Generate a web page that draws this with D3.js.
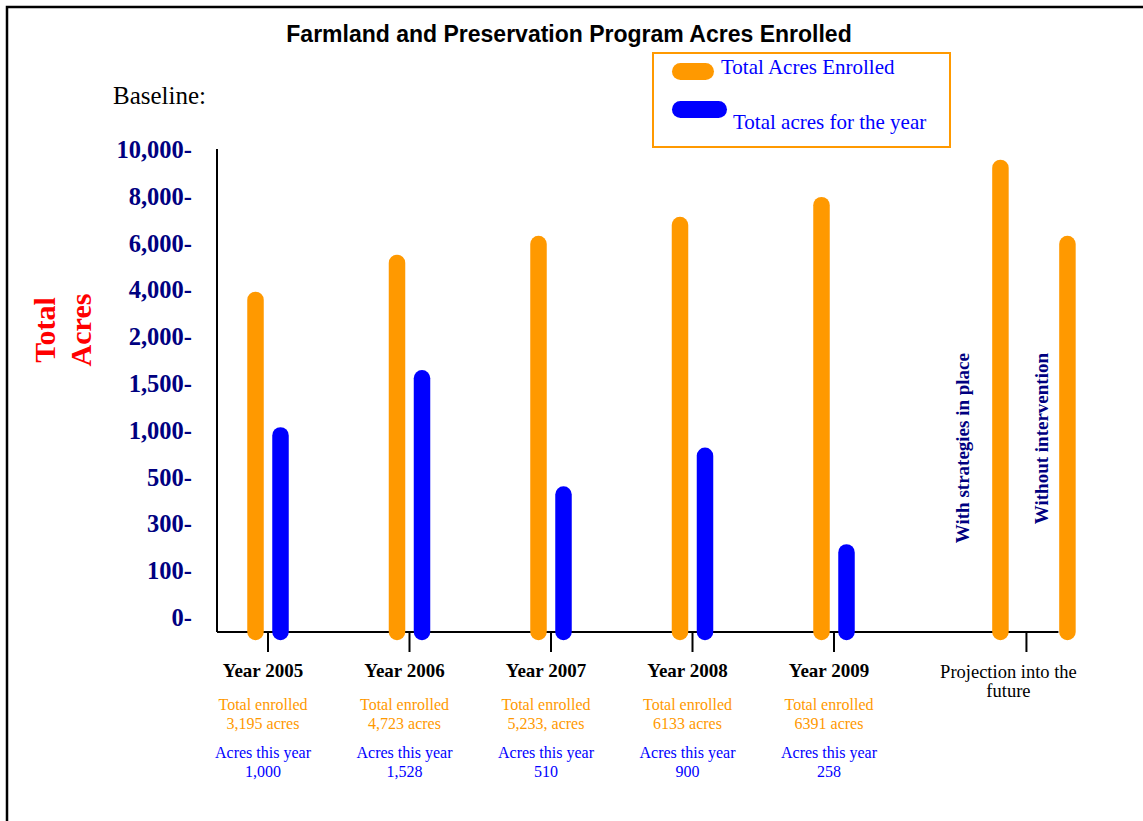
<!DOCTYPE html>
<html>
<head>
<meta charset="utf-8">
<script src="https://cdn.jsdelivr.net/npm/d3@7"></script>
<style>
  body { margin: 0; background: #fff; }
  svg { display: block; }
</style>
</head>
<body>
<div id="chart-area"></div>
<script>
// values (bar heights), plus the printed notes
var years = ["Year 2005", "Year 2006", "Year 2007", "Year 2008", "Year 2009"];
var totalEnrolled = [3550, 5130, 5940, 6750, 7600];
var acresThisYear = [940, 1550, 423, 722, 176];
var enrolledNotes = ["3,195 acres", "4,723 acres", "5,233, acres", "6133 acres", "6391 acres"];
var yearNotes = ["1,000", "1,528", "510", "900", "258"];
var projectionNames = ["With strategies in place", "Without intervention"];
var projectionValues = [9190, 5940];
var yTicks = [0, 100, 300, 500, 1000, 1500, 2000, 4000, 6000, 8000, 10000];

var W = 1143, H = 821;
var orange = "#ff9900", blue = "#0000ff", navy = "#000080";
var serif = "'Liberation Serif', 'Times New Roman', serif";

var svg = d3.select("#chart-area")
    .append("svg")
        .attr("width", W)
        .attr("height", H);

// outer frame
svg.append("rect")
    .attr("x", 7).attr("y", 7)
    .attr("width", W + 20).attr("height", H + 20)
    .attr("fill", "none")
    .attr("stroke", "#000")
    .attr("stroke-width", 2.5);

svg.append("text")
    .attr("x", 569).attr("y", 42)
    .attr("text-anchor", "middle")
    .attr("font-family", "'Liberation Sans', Arial, sans-serif")
    .attr("font-weight", "bold")
    .attr("font-size", "23px")
    .text("Farmland and Preservation Program Acres Enrolled");

svg.append("text")
    .attr("x", 113).attr("y", 104)
    .attr("font-family", serif)
    .attr("font-size", "25px")
    .text("Baseline:");

// axis geometry
var axisX = 217, baseY = 632;

// the tick labels are spaced evenly although the values are not
var step = 46.8;
var y = d3.scaleLinear()
    .domain(yTicks)
    .range(yTicks.map(function(d, i) { return 617 - i * step; }));

var x = d3.scalePoint()
    .domain(years)
    .range([268, 834]);
var projX = 834 + x.step() * 1.36;

var yAxis = svg.append("g")
    .attr("transform", "translate(" + axisX + ",0)")
    .call(d3.axisLeft(y)
        .tickValues(yTicks)
        .tickSize(0)
        .tickPadding(25)
        .tickFormat(function(d) { return d3.format(",")(d) + "-"; }));
yAxis.select(".domain").remove();
yAxis.selectAll("text")
    .attr("font-family", serif)
    .attr("font-weight", "bold")
    .attr("font-size", "24.5px")
    .attr("fill", navy)
    .attr("dy", "0.35em");

// y title, two rotated lines
[["Total", 55], ["Acres", 91]].forEach(function(t) {
    svg.append("text")
        .attr("transform", "translate(" + t[1] + ",330) rotate(-90)")
        .attr("text-anchor", "middle")
        .attr("font-family", serif)
        .attr("font-weight", "bold")
        .attr("font-size", "30px")
        .attr("fill", "#ff0000")
        .text(t[0]);
});

// axis lines
svg.append("line")
    .attr("x1", axisX).attr("x2", axisX)
    .attr("y1", y(10000)).attr("y2", baseY)
    .attr("stroke", "#000").attr("stroke-width", 2);
svg.append("line")
    .attr("x1", axisX).attr("x2", projX + 32)
    .attr("y1", baseY).attr("y2", baseY)
    .attr("stroke", "#000").attr("stroke-width", 2);

var tickXs = years.map(function(d) { return x(d); }).concat([projX]);
svg.selectAll(".xtick")
    .data(tickXs)
    .enter().append("line")
        .attr("class", "xtick")
        .attr("x1", function(d) { return d; })
        .attr("x2", function(d) { return d; })
        .attr("y1", baseY).attr("y2", baseY + 20)
        .attr("stroke", "#000").attr("stroke-width", 2);

var barW = 16.5, off = 12.5;

function bar(sel, color) {
    sel.attr("y1", baseY)
        .attr("stroke", color)
        .attr("stroke-width", barW)
        .attr("stroke-linecap", "round");
}

svg.selectAll(".bar-total")
    .data(totalEnrolled)
    .enter().append("line")
        .attr("class", "bar-total")
        .attr("x1", function(d, i) { return x(years[i]) - off; })
        .attr("x2", function(d, i) { return x(years[i]) - off; })
        .attr("y2", function(d) { return y(d); })
        .call(bar, orange);

svg.selectAll(".bar-year")
    .data(acresThisYear)
    .enter().append("line")
        .attr("class", "bar-year")
        .attr("x1", function(d, i) { return x(years[i]) + off; })
        .attr("x2", function(d, i) { return x(years[i]) + off; })
        .attr("y2", function(d) { return y(d); })
        .call(bar, blue);

// projection bars
var projOffsets = [-26, 41];
svg.selectAll(".bar-proj")
    .data(projectionValues)
    .enter().append("line")
        .attr("class", "bar-proj")
        .attr("x1", function(d, i) { return projX + projOffsets[i]; })
        .attr("x2", function(d, i) { return projX + projOffsets[i]; })
        .attr("y2", function(d) { return y(d); })
        .call(bar, orange);

var projLabelX = [962, 1041];
svg.selectAll(".proj-label")
    .data(projectionNames)
    .enter().append("text")
        .attr("class", "proj-label")
        .attr("transform", function(d, i) {
            return "translate(" + (projLabelX[i] + 7) + ",353) rotate(-90)";
        })
        .attr("text-anchor", "end")
        .attr("font-family", serif)
        .attr("font-weight", "bold")
        .attr("font-size", "19px")
        .attr("fill", navy)
        .text(function(d) { return d; });

// category labels and notes
var cat = svg.selectAll(".cat")
    .data(years)
    .enter().append("g")
        .attr("class", "cat")
        .attr("transform", function(d) { return "translate(" + (x(d) - 5) + ",0)"; })
        .attr("text-anchor", "middle")
        .attr("font-family", serif);

cat.append("text")
    .attr("y", 677)
    .attr("font-weight", "bold")
    .attr("font-size", "19px")
    .text(function(d) { return d; });

cat.append("text")
    .attr("y", 710)
    .attr("font-size", "16px")
    .attr("fill", orange)
    .text("Total enrolled");
cat.append("text")
    .attr("y", 729)
    .attr("font-size", "16px")
    .attr("fill", orange)
    .text(function(d, i) { return enrolledNotes[i]; });

cat.append("text")
    .attr("y", 758)
    .attr("font-size", "16px")
    .attr("fill", blue)
    .text("Acres this year");
cat.append("text")
    .attr("y", 777)
    .attr("font-size", "16px")
    .attr("fill", blue)
    .text(function(d, i) { return yearNotes[i]; });

var proj = svg.append("g")
    .attr("text-anchor", "middle")
    .attr("font-family", serif)
    .attr("font-size", "18.5px");
proj.append("text").attr("x", projX - 18).attr("y", 678).text("Projection into the");
proj.append("text").attr("x", projX - 18).attr("y", 697).text("future");

// legend
var legend = svg.append("g");
legend.append("rect")
    .attr("x", 653).attr("y", 53)
    .attr("width", 297).attr("height", 94)
    .attr("fill", "none")
    .attr("stroke", orange)
    .attr("stroke-width", 2);

var legendItems = [
    { label: "Total Acres Enrolled", color: orange, w: 42, cy: 71.5, tx: 721, ty: 74 },
    { label: "Total acres for the year", color: blue, w: 55, cy: 109.5, tx: 733, ty: 129 }
];
legendItems.forEach(function(d) {
    legend.append("rect")
        .attr("x", 672).attr("y", d.cy - 8.5)
        .attr("width", d.w).attr("height", 17)
        .attr("rx", 8.5)
        .attr("fill", d.color);
    legend.append("text")
        .attr("x", d.tx).attr("y", d.ty)
        .attr("font-family", serif)
        .attr("font-size", "21px")
        .attr("fill", blue)
        .text(d.label);
});
</script>
</body>
</html>
